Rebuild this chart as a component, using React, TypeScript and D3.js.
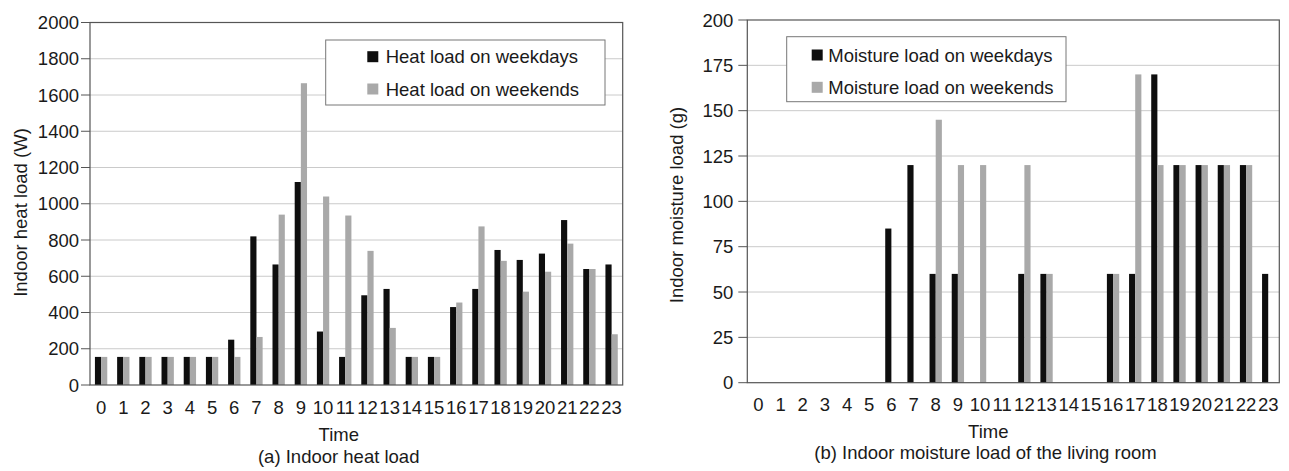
import React from "react";
import * as d3 from "d3";

const hours: string[] = Array.from({ length: 24 }, (_, i) => String(i));

const heatWeekdays: number[] = [155, 155, 155, 155, 155, 155, 250, 820, 665, 1120, 295, 155, 495, 530, 155, 155, 430, 530, 745, 690, 725, 910, 640, 665];
const heatWeekends: number[] = [155, 155, 155, 155, 155, 155, 155, 265, 940, 1665, 1040, 935, 740, 315, 155, 155, 455, 875, 685, 515, 625, 780, 640, 280];
const heatTicks: number[] = [0, 200, 400, 600, 800, 1000, 1200, 1400, 1600, 1800, 2000];

const moistWeekdays: number[] = [0, 0, 0, 0, 0, 0, 85, 120, 60, 60, 0, 0, 60, 60, 0, 0, 60, 60, 170, 120, 120, 120, 120, 60];
const moistWeekends: number[] = [0, 0, 0, 0, 0, 0, 0, 0, 145, 120, 120, 0, 120, 60, 0, 0, 60, 170, 120, 120, 120, 120, 120, 0];
const moistTicks: number[] = [0, 25, 50, 75, 100, 125, 150, 175, 200];

const heatLegend: string[] = ["Heat load on weekdays", "Heat load on weekends"];
const moistLegend: string[] = ["Moisture load on weekdays", "Moisture load on weekends"];

const FONT = "'Liberation Sans', Arial, Helvetica, sans-serif";
const FS = 18.5;
const BLACK = "#0e0e0e";
const GRAY = "#a9a9a9";
const GRID = "#cacaca";
const FRAME = "#555555";
const TEXT = "#1a1a1a";

type ChartProps = {
  left: number; right: number; top: number; bottom: number;
  yMax: number; ticks: number[];
  s1: number[]; s2: number[];
  legend: string[];
  legBox: { x: number; y: number; w: number; h: number; mx: number; tx: number; r1: number; r2: number };
  yTitle: string; yTitleX: number; yTitleY: number;
  labelEnd: number;
  timeX: number; timeY: number;
  caption: string; capX: number; capY: number;
};

function Chart(p: ChartProps) {
  const x0 = d3.scaleBand<string>().domain(hours).range([p.left, p.right]).paddingInner(0).paddingOuter(0);
  const x1 = d3.scaleBand<string>().domain(["a", "b"]).range([0, x0.bandwidth()]).paddingInner(0).paddingOuter(0.8);
  const y = d3.scaleLinear().domain([0, p.yMax]).range([p.bottom, p.top]);
  const lb = p.legBox;
  return (
    <g fontFamily={FONT} fontSize={FS} fill={TEXT}>
      {p.ticks.map((t) => (
        <g key={"g" + t}>
          {t !== 0 && t !== p.yMax && (
            <line x1={p.left} x2={p.right} y1={y(t)} y2={y(t)} stroke={GRID} strokeWidth={1} />
          )}
          <line x1={p.left - 9} x2={p.left} y1={y(t)} y2={y(t)} stroke={FRAME} strokeWidth={1} />
          <text x={p.labelEnd} y={y(t)} textAnchor="end" dominantBaseline="central">{t}</text>
        </g>
      ))}
      {hours.map((h, i) => (
        <g key={"b" + h}>
          {p.s1[i] > 0 && (
            <rect x={(x0(h) as number) + (x1("a") as number)} width={x1.bandwidth()} y={y(p.s1[i])} height={p.bottom - y(p.s1[i])} fill={BLACK} />
          )}
          {p.s2[i] > 0 && (
            <rect x={(x0(h) as number) + (x1("b") as number)} width={x1.bandwidth()} y={y(p.s2[i])} height={p.bottom - y(p.s2[i])} fill={GRAY} />
          )}
          <text x={(x0(h) as number) + x0.bandwidth() / 2} y={p.bottom + 22} textAnchor="middle" dominantBaseline="central">{h}</text>
        </g>
      ))}
      <rect x={p.left} y={p.top} width={p.right - p.left} height={p.bottom - p.top} fill="none" stroke={FRAME} strokeWidth={1.2} />
      <rect x={lb.x} y={lb.y} width={lb.w} height={lb.h} fill="#ffffff" stroke="#777777" strokeWidth={1} />
      <rect x={lb.x + lb.mx} y={lb.y + lb.r1 - 5.5} width={11} height={11} fill={BLACK} />
      <rect x={lb.x + lb.mx} y={lb.y + lb.r2 - 5.5} width={11} height={11} fill={GRAY} />
      <text x={lb.x + lb.tx} y={lb.y + lb.r1} dominantBaseline="central">{p.legend[0]}</text>
      <text x={lb.x + lb.tx} y={lb.y + lb.r2} dominantBaseline="central">{p.legend[1]}</text>
      <text transform={`translate(${p.yTitleX},${p.yTitleY}) rotate(-90)`} textAnchor="middle" dominantBaseline="central">{p.yTitle}</text>
      <text x={p.timeX} y={p.timeY} textAnchor="middle">Time</text>
      <text x={p.capX} y={p.capY} textAnchor="middle">{p.caption}</text>
    </g>
  );
}

export default function App() {
  return (
    <svg width={1289} height={471} style={{ position: "absolute", left: 0, top: 0, background: "#ffffff" }}>
      <Chart
        left={90} right={622.7} top={22.5} bottom={385}
        yMax={2000} ticks={heatTicks}
        s1={heatWeekdays} s2={heatWeekends}
        legend={heatLegend}
        legBox={{ x: 325.7, y: 40, w: 279.3, h: 65, mx: 41.6, tx: 60, r1: 16.7, r2: 49 }}
        yTitle="Indoor heat load (W)" yTitleX={20} yTitleY={212.5}
        labelEnd={79}
        timeX={338.8} timeY={441}
        caption="(a) Indoor heat load" capX={338.7} capY={463}
      />
      <Chart
        left={747.3} right={1279.3} top={20} bottom={382.7}
        yMax={200} ticks={moistTicks}
        s1={moistWeekdays} s2={moistWeekends}
        legend={moistLegend}
        legBox={{ x: 786.7, y: 36.7, w: 279.3, h: 65, mx: 25, tx: 41.6, r1: 18.3, r2: 50.6 }}
        yTitle="Indoor moisture load (g)" yTitleX={676} yTitleY={205}
        labelEnd={733.3}
        timeX={988.3} timeY={438.3}
        caption="(b) Indoor moisture load of the living room" capX={985.5} capY={459}
      />
    </svg>
  );
}
